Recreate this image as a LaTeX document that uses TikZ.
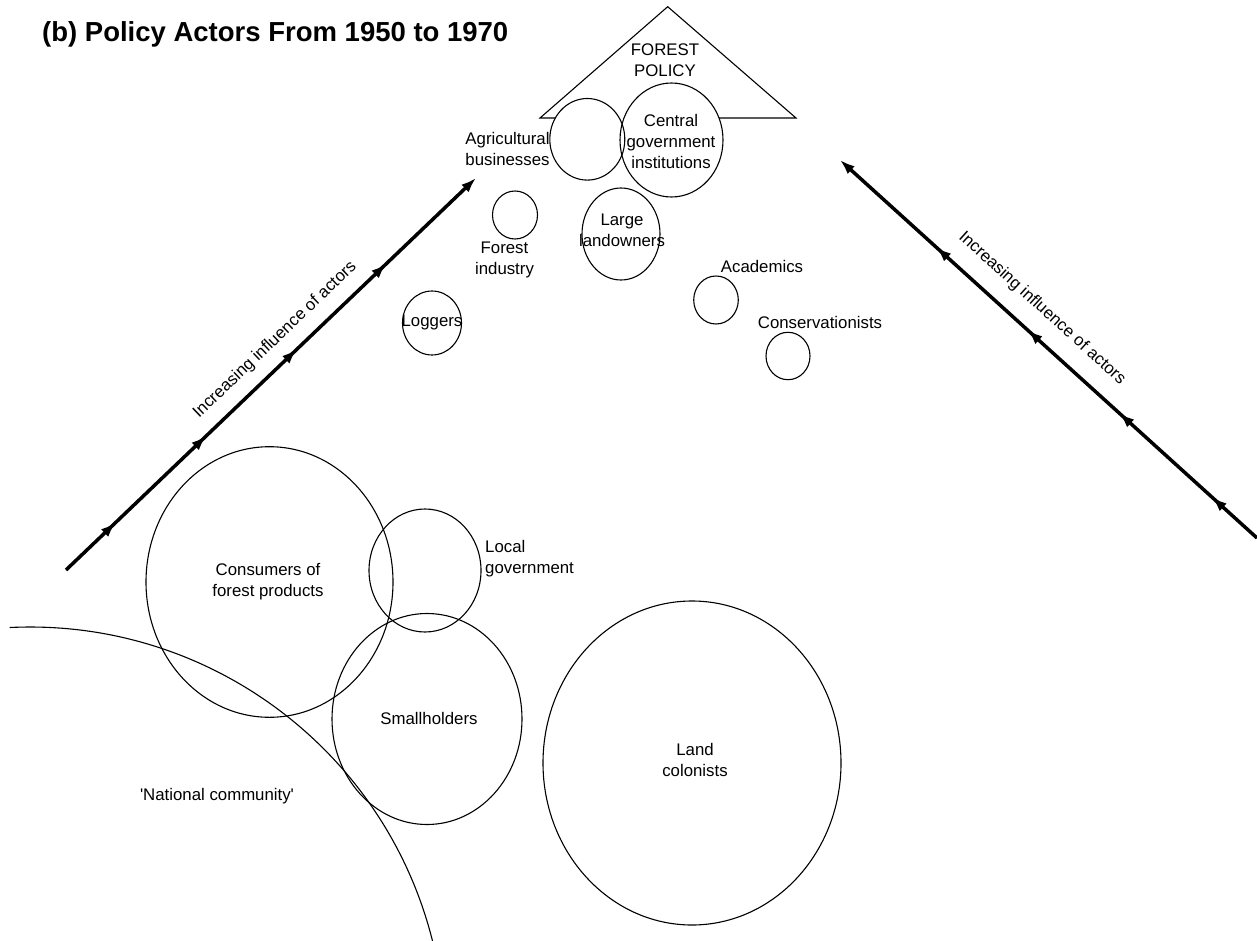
\documentclass[tikz,border=0pt]{standalone}
\usepackage{fontspec}
\setmainfont{Liberation Sans}
\usetikzlibrary{arrows.meta,decorations.markings,shapes.geometric}
\begin{document}
\begin{tikzpicture}[x=1pt,y=-1pt,
  actor/.style={draw, ellipse, inner sep=0pt, line width=1.1pt},
  lbl/.style={align=center, inner sep=0pt, font=\fontsize{16.8}{21}\selectfont},
  titlestyle/.style={inner sep=0pt, font=\fontsize{27.5}{32}\selectfont\bfseries},
  thinline/.style={line width=1.1pt},
  tipshape/.tip={Latex[length=15pt,width=10.5pt]},
  influenceL/.style={line width=3.5pt, -tipshape, postaction={decorate},
    decoration={markings,
      mark=at position 0.121 with {\arrow{tipshape}},
      mark=at position 0.342 with {\arrow{tipshape}},
      mark=at position 0.563 with {\arrow{tipshape}},
      mark=at position 0.781 with {\arrow{tipshape}}}},
  influenceR/.style={line width=3.5pt, -tipshape, postaction={decorate},
    decoration={markings,
      mark=at position 0.108 with {\arrow{tipshape}},
      mark=at position 0.330 with {\arrow{tipshape}},
      mark=at position 0.550 with {\arrow{tipshape}},
      mark=at position 0.769 with {\arrow{tipshape}}}}
]
\useasboundingbox (0,0) rectangle (1257,941);
\clip (0,0) rectangle (1257,941);

% title
\node[titlestyle, anchor=base west] (title) at (42,41.5) {(b) Policy Actors From 1950 to 1970};

% forest policy triangle
\coordinate (apex) at (667.7,6.7);
\coordinate (baseL) at (540,118);
\coordinate (baseR) at (796,118);
\coordinate (baseLin) at (555.3,118);
\coordinate (baseRin) at (719,118);
\draw[thinline] (baseLin) -- (baseL) -- (apex) -- (baseR) -- (baseRin);
\node[lbl] (policy) at (665,60) {FOREST\\POLICY};

% actor circles
\node[actor, minimum width=75pt, minimum height=81.6pt] (agri) at (587.3,139.3) {};
\node[actor, minimum width=103pt, minimum height=114pt] (central) at (671.5,140) {};
\node[actor, minimum width=78pt, minimum height=92pt] (landowners) at (621,234) {};
\node[actor, minimum width=45pt, minimum height=48pt] (forest) at (515,215) {};
\node[actor, minimum width=59pt, minimum height=64pt] (loggers) at (432,323) {};
\node[actor, minimum width=44.6pt, minimum height=48pt] (academics) at (716,300) {};
\node[actor, minimum width=44pt, minimum height=47.4pt] (conserv) at (788,356) {};
\node[actor, minimum width=247pt, minimum height=270.6pt] (consumers) at (269.5,582) {};
\node[actor, minimum width=112pt, minimum height=123pt] (localgov) at (425,570.5) {};
\node[actor, minimum width=190pt, minimum height=211pt] (small) at (427,719) {};
\node[actor, minimum width=298pt, minimum height=324pt] (colonists) at (692,763) {};

% national community arc
\coordinate (natcentre) at (30,1042);
\draw[thinline] (natcentre) ++(-92.8:415) arc[start angle=-92.8, end angle=-12, radius=415];

% labels
\node[lbl] (agrilbl) at (507.5,149) {Agricultural\\businesses};
\node[lbl] (centrallbl) at (671,141) {Central\\government\\institutions};
\node[lbl] (landlbl) at (622,230) {Large\\landowners};
\node[lbl] (forestlbl) at (504.5,260) {Forest\\industry};
\node[lbl] (loggerslbl) at (432,322) {Loggers};
\node[lbl] (academicslbl) at (762,266) {Academics};
\node[lbl] (conslbl) at (820,322) {Conservationists};
\node[lbl] (consumerslbl) at (268,582) {Consumers of\\forest products};
\node[lbl, align=left, anchor=west] (locallbl) at (485,559) {Local\\government};
\node[lbl] (smalllbl) at (429,718) {Smallholders};
\node[lbl] (nationallbl) at (217,796) {\textquotesingle National community\textquotesingle};
\node[lbl] (colonistslbl) at (695,760) {Land\\colonists};

% influence arrows
\coordinate (leftStart) at (66,570);
\coordinate (leftEnd) at (476,178);
\draw[influenceL] (leftStart) -- (leftEnd);
\node[lbl, rotate=43.7] (leftlbl) at (275,340) {Increasing influence of actors};

\coordinate (rightStart) at (1257,538);
\coordinate (rightEnd) at (840,160);
\draw[influenceR] (rightStart) -- (rightEnd);
\node[lbl, rotate=-42.2] (rightlbl) at (1042,308.5) {Increasing influence of actors};
\end{tikzpicture}
\end{document}
